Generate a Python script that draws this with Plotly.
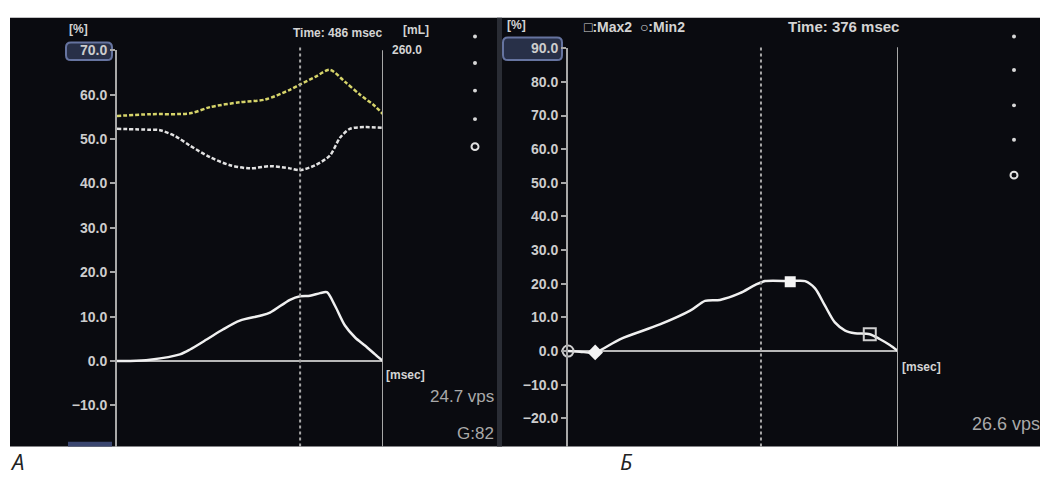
import plotly.graph_objects as go

W, H = 1046, 480

# ---------------- data ----------------
# Panel A (left): time in msec, strain in %
a_time = [0, 35, 88, 167, 194, 239, 281, 326, 380, 406, 459, 486, 512, 539, 557, 579, 605, 632, 658, 685, 706]
a_strain = [0, 0, 0.3, 1.5, 2.6, 4.9, 7.1, 9.1, 10.2, 10.9, 13.8, 14.6, 14.7, 15.3, 15.5, 12.4, 8.0, 5.3, 3.5, 1.5, 0]

a_vol_time = [0, 88, 194, 247, 326, 393, 459, 486, 526, 565, 605, 645, 685, 706]
a_vol_upper = [55.2, 55.6, 55.8, 57.2, 58.3, 58.9, 61.1, 62.3, 64.0, 65.6, 62.9, 60.0, 57.4, 55.6]

a_vol2_time = [0, 88, 114, 154, 194, 247, 300, 353, 406, 459, 486, 526, 565, 592, 618, 658, 706]
a_vol_lower = [52.3, 52.1, 52.0, 50.7, 48.5, 45.9, 44.1, 43.4, 43.9, 43.4, 43.0, 44.1, 46.3, 50.3, 52.3, 52.7, 52.5]

a_cursor = 486
a_end = 706
a_ticks = [-10, 0, 10, 20, 30, 40, 50, 60, 70]

# Panel B (right)
b_time = [0, 23, 53, 101, 179, 238, 267, 296, 335, 364, 384, 433, 462, 481, 501, 520, 540, 559, 588, 608, 627, 643]
b_strain = [0, -0.2, -0.4, 3.5, 7.9, 12.0, 14.9, 15.2, 17.2, 19.6, 20.8, 20.8, 20.8, 18.7, 13.4, 8.5, 6.1, 5.3, 5.0, 3.5, 1.8, 0]

b_min2 = (0, 0)
b_min_filled = (53, -0.4)
b_max_filled = (433, 20.6)
b_max2 = (588, 5.0)
b_cursor = 376
b_end = 643
b_ticks = [-20, -10, 0, 10, 20, 30, 40, 50, 60, 70, 80, 90]

# ---------------- helpers ----------------
def px(x):
    return x / W

def py(y):
    return 1 - y / H

GRAY = "#a8a8a8"
TXT = "#d4d4d4"
PANEL = "#0a0b10"
BOLD = dict(family="Liberation Sans, Arial, sans-serif", size=13, color=TXT, weight="bold")
TICKF = dict(BOLD, size=14, color="#cdcdcd")

fig = go.Figure()

# panel A traces
fig.add_trace(go.Scatter(x=a_vol_time, y=a_vol_upper, mode="lines", line=dict(color="#d6d46a", width=2.5, dash="4px,2px", shape="spline", smoothing=0.8), xaxis="x", yaxis="y", showlegend=False))
fig.add_trace(go.Scatter(x=a_vol2_time, y=a_vol_lower, mode="lines", line=dict(color="#e2e2e2", width=2.5, dash="4px,2px", shape="spline", smoothing=0.8), xaxis="x", yaxis="y", showlegend=False))
fig.add_trace(go.Scatter(x=a_time, y=a_strain, mode="lines", line=dict(color="#f0f0f0", width=2.5, shape="spline", smoothing=0.8), xaxis="x", yaxis="y", showlegend=False))

# panel B traces
fig.add_trace(go.Scatter(x=b_time, y=b_strain, mode="lines", line=dict(color="#f0f0f0", width=2.5, shape="spline", smoothing=0.8), xaxis="x2", yaxis="y2", showlegend=False))
fig.add_trace(go.Scatter(x=[b_min2[0]], y=[b_min2[1]], mode="markers", marker=dict(symbol="circle-open", size=11, color="#cfcfcf", line=dict(width=2)), xaxis="x2", yaxis="y2", showlegend=False, cliponaxis=False))
fig.add_trace(go.Scatter(x=[b_min_filled[0]], y=[b_min_filled[1]], mode="markers", marker=dict(symbol="diamond", size=12, color="#f4f4f4"), xaxis="x2", yaxis="y2", showlegend=False, cliponaxis=False))
fig.add_trace(go.Scatter(x=[b_max_filled[0]], y=[b_max_filled[1]], mode="markers", marker=dict(symbol="square", size=11, color="#f4f4f4"), xaxis="x2", yaxis="y2", showlegend=False, cliponaxis=False))
fig.add_trace(go.Scatter(x=[b_max2[0]], y=[b_max2[1]], mode="markers", marker=dict(symbol="square-open", size=12, color="#cfcfcf", line=dict(width=2)), xaxis="x2", yaxis="y2", showlegend=False, cliponaxis=False))

# ---------------- shapes ----------------
shapes = []
shapes.append(dict(type="rect", xref="paper", yref="paper", x0=px(10), x1=px(1040), y0=py(446), y1=py(10), fillcolor=PANEL, line=dict(width=0), layer="below"))
shapes.append(dict(type="rect", xref="paper", yref="paper", x0=px(497), x1=px(502), y0=py(446), y1=py(10), fillcolor="#2a2d35", line=dict(width=0), layer="below"))


def rounded(x0, y0, x1, y1, r=5):
    X0, X1 = px(x0), px(x1)
    rx = r / W
    ry = r / H
    Y0, Y1 = py(y1), py(y0)  # bottom, top
    return (f"M {X0+rx},{Y0} L {X1-rx},{Y0} Q {X1},{Y0} {X1},{Y0+ry} L {X1},{Y1-ry} Q {X1},{Y1} {X1-rx},{Y1} "
            f"L {X0+rx},{Y1} Q {X0},{Y1} {X0},{Y1-ry} L {X0},{Y0+ry} Q {X0},{Y0} {X0+rx},{Y0} Z")

for (x0, y0, x1, y1) in [(66, 35, 112, 53), (503, 30, 562, 53)]:
    shapes.append(dict(type="path", xref="paper", yref="paper", path=rounded(x0, y0, x1, y1), fillcolor="#283048", line=dict(color="#6674a0", width=2), layer="below"))
shapes.append(dict(type="rect", xref="paper", yref="paper", x0=px(68), x1=px(112), y0=py(446), y1=py(441), fillcolor="#3a4670", line=dict(width=0), layer="below"))

# cursor and end lines
shapes.append(dict(type="line", xref="x", yref="paper", x0=a_cursor, x1=a_cursor, y0=py(446), y1=py(40), line=dict(color=GRAY, width=2, dash="dot")))
shapes.append(dict(type="line", xref="x", yref="paper", x0=a_end, x1=a_end, y0=py(446), y1=py(43), line=dict(color=GRAY, width=2)))
shapes.append(dict(type="line", xref="x2", yref="paper", x0=b_cursor, x1=b_cursor, y0=py(446), y1=py(38), line=dict(color=GRAY, width=2, dash="dot")))
shapes.append(dict(type="line", xref="x2", yref="paper", x0=b_end, x1=b_end, y0=py(446), y1=py(40), line=dict(color=GRAY, width=2)))

# indicator dots
for cx, ys in [(475, [29, 56, 84, 113]), (1014, [29, 63, 99, 134])]:
    for cy in ys:
        shapes.append(dict(type="circle", xref="paper", yref="paper", x0=px(cx-2), x1=px(cx+2), y0=py(cy+2), y1=py(cy-2), fillcolor="#d8d8d8", line=dict(width=0)))
for cx, cy in [(475, 141), (1014, 170)]:
    shapes.append(dict(type="circle", xref="paper", yref="paper", x0=px(cx-3.5), x1=px(cx+3.5), y0=py(cy+3.5), y1=py(cy-3.5), fillcolor=PANEL, line=dict(color="#e0e0e0", width=2)))

# ---------------- annotations ----------------
ann = []
def text(t, x, y, xanchor="left", font=None):
    ann.append(dict(text=t, xref="paper", yref="paper", x=px(x), y=py(y), xanchor=xanchor, yanchor="middle", showarrow=False, font=font or BOLD))

small = dict(BOLD, size=12)
text("[%]", 67, 21, font=small)
text("Time: 486 msec", 384, 25, xanchor="right", font=small)
text("[mL]", 401, 22, font=small)
text("260.0", 390, 43, font=small)
text("[msec]", 384, 373, font=small)
reg = dict(family="Liberation Sans, Arial, sans-serif", size=17, color="#a9a9a9")
text("24.7 vps", 496, 395, xanchor="right", font=reg)
text("G:82", 496, 433, xanchor="right", font=reg)

text("[%]", 505, 17, font=small)
text("□:Max2  ○:Min2", 582, 19, font=dict(BOLD, size=14))
text("Time: 376 msec", 901, 19, xanchor="right", font=dict(BOLD, size=15))
text("[msec]", 900, 365, font=small)
text("26.6 vps", 1042, 423, xanchor="right", font=dict(reg, size=18))

lab = dict(family="Open Sans, Noto Sans, sans-serif", size=22, color="#222222", style="italic")
text("А", 8, 461, font=lab)
text("Б", 618, 461, font=lab)

# ---------------- axes ----------------
def yaxis_common(ticks, rng, dom, anchor):
    return dict(range=rng, domain=dom, anchor=anchor, tickvals=ticks, tickformat=".1f", showgrid=False,
                showline=True, linecolor=GRAY, linewidth=2, ticks="outside", ticklen=5, tickwidth=2, tickcolor=GRAY,
                tickfont=TICKF, zeroline=True, zerolinecolor="#b8b8b8", zerolinewidth=2, fixedrange=True)

def xaxis_common(rng, dom, anchor):
    return dict(range=rng, domain=dom, anchor=anchor, visible=False, fixedrange=True)

fig.update_layout(
    width=W, height=H,
    margin=dict(l=0, r=0, t=0, b=0),
    paper_bgcolor="white", plot_bgcolor="rgba(0,0,0,0)",
    xaxis=xaxis_common([0, a_end], [px(117), px(383)], "y"),
    yaxis=yaxis_common(a_ticks, [-19.27, 70], [py(446), py(43)], "x"),
    xaxis2=xaxis_common([0, b_end], [px(568), px(898)], "y2"),
    yaxis2=yaxis_common(b_ticks, [-28.4, 90], [py(446), py(41)], "x2"),
    shapes=shapes, annotations=ann, showlegend=False, hovermode=False,
)

fig.write_html("out.html", config={"displayModeBar": False},
               post_script="document.body.style.margin='0px';document.body.style.overflow='hidden';")
